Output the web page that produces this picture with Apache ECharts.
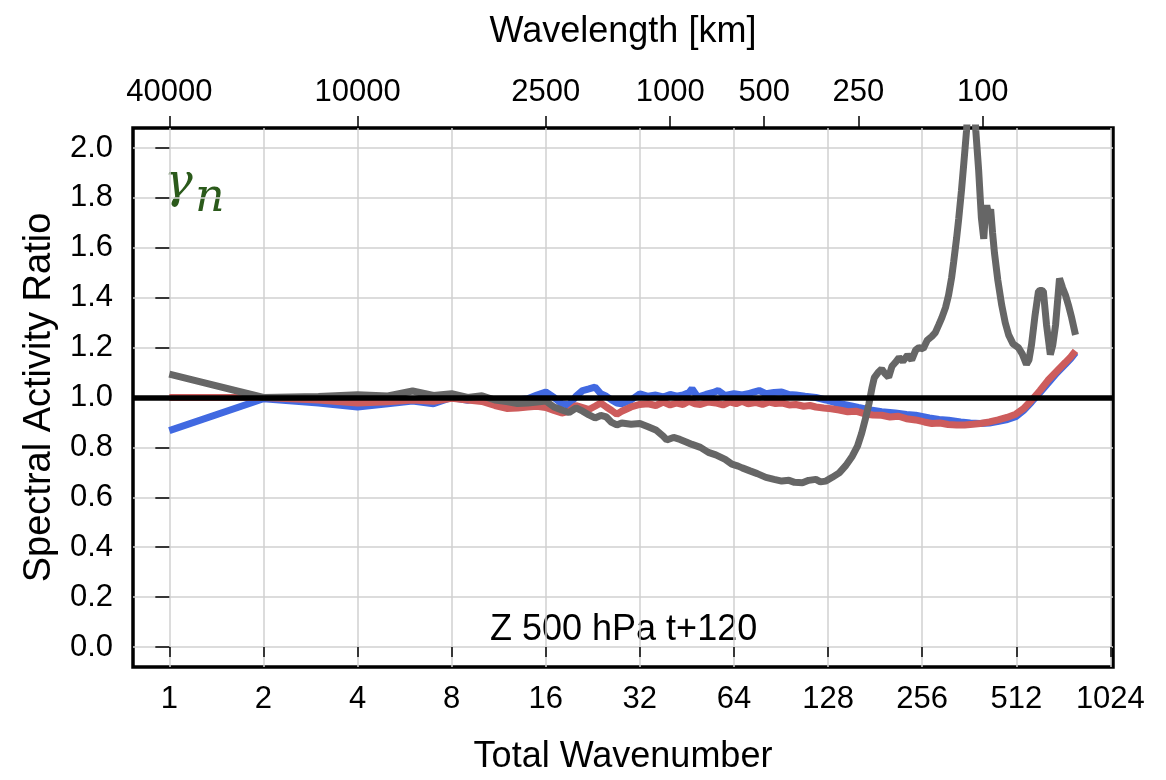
<!DOCTYPE html>
<html>
<head>
<meta charset="utf-8">
<title>Spectral Activity Ratio</title>
<script src="https://cdn.jsdelivr.net/npm/echarts@6/dist/echarts.min.js"></script>
<style>
	html, body { margin: 0; padding: 0; background: #fff; }
	#chart_container { width: 1166px; height: 780px; }
</style>
</head>
<body>
<div id="chart_container"></div>
<script>
// 数据：总波数 n 与谱活动比
var xTickN = [1, 2, 4, 8, 16, 32, 64, 128, 256, 512, 1024];
var topTickKm = [40000, 10000, 2500, 1000, 500, 250, 100];
var yTicks = [0, 0.2, 0.4, 0.6, 0.8, 1.0, 1.2, 1.4, 1.6, 1.8, 2.0];

var blueN = [1, 2, 3, 4, 5, 6, 7, 8, 9, 10, 11, 12, 13, 14, 15, 16, 17, 18, 19, 20, 21, 22, 23, 24, 25, 26, 27, 28, 30, 32,
	34, 36, 38, 40, 42, 44, 46, 47, 49, 52, 55, 57, 60, 64, 68, 71, 74, 77, 81, 86, 91, 96, 101, 108, 117, 126, 136, 148,
	160, 175, 190, 210, 228, 244, 270, 290, 311, 340, 365, 393, 420, 450, 480, 510, 540, 573, 610, 650, 690, 736, 765, 792];
var blueV = [0.867, 0.995, 0.978, 0.962, 0.975, 0.986, 0.975, 1.000, 0.989, 1.000, 0.985, 0.982, 0.990, 0.995, 1.010, 1.022,
	1.000, 0.975, 0.970, 1.005, 1.028, 1.035, 1.042, 1.015, 1.005, 0.990, 0.978, 0.975, 0.990, 1.015,
	1.005, 1.010, 1.002, 1.012, 1.005, 1.010, 1.020, 1.035, 1.002, 1.012, 1.020, 1.028, 1.008, 1.015, 1.010, 1.015, 1.022,
	1.028, 1.015, 1.020, 1.022, 1.012, 1.010, 1.005, 1.000, 0.990, 0.978, 0.969,
	0.960, 0.950, 0.943, 0.938, 0.932, 0.929, 0.918, 0.912, 0.909, 0.902, 0.898, 0.896, 0.898, 0.905, 0.912, 0.923, 0.948,
	0.982, 1.020, 1.060, 1.098, 1.134, 1.156, 1.180];

var redN = [1, 2, 3, 4, 5, 6, 7, 8, 9, 10, 11, 12, 13, 14, 15, 16, 17, 18, 19, 20, 21, 22, 23, 24, 25, 26, 27, 28, 30, 32,
	34, 36, 38, 40, 42, 44, 46, 48, 50, 53, 56, 59, 62, 65, 68, 71, 75, 79, 83, 87, 91, 96, 101, 107, 112, 117, 124, 131,
	139, 148, 157, 167, 178, 190, 202, 215, 228, 244, 260, 275, 292, 310, 330, 350, 372, 393, 420, 448, 478, 510, 540,
	573, 610, 646, 690, 736, 765, 792];
var redV = [1.000, 1.000, 0.990, 0.978, 0.983, 0.990, 0.985, 0.997, 0.990, 0.984, 0.968, 0.956, 0.958, 0.962, 0.965, 0.960,
	0.948, 0.938, 0.945, 0.968, 0.960, 0.952, 0.965, 0.978, 0.962, 0.948, 0.933, 0.945, 0.962, 0.972,
	0.975, 0.968, 0.982, 0.970, 0.978, 0.972, 0.985, 0.975, 0.972, 0.982, 0.978, 0.970, 0.982, 0.975, 0.985, 0.975, 0.980,
	0.972, 0.982, 0.976, 0.978, 0.970, 0.972, 0.965, 0.968, 0.962, 0.958, 0.955,
	0.950, 0.943, 0.945, 0.935, 0.930, 0.929, 0.922, 0.925, 0.915, 0.910, 0.902, 0.896, 0.898, 0.892, 0.890, 0.890, 0.893,
	0.896, 0.902, 0.910, 0.920, 0.933, 0.955, 0.989, 1.028, 1.068, 1.105, 1.141, 1.163, 1.187];

var grayN = [1, 2, 3, 4, 5, 6, 7, 8, 9, 10, 11, 12, 13, 14, 15, 16, 17, 18, 19, 20, 21, 22, 23, 24, 25, 26, 27, 28, 30, 32,
	34, 36, 38, 39, 41, 43, 45, 47, 50, 53, 56, 60, 63, 66, 68, 72, 76, 81, 86, 91, 96, 100, 106, 111, 117, 121, 126, 132,
	139, 146, 153, 159, 164, 169, 173, 177, 180, 185, 190, 195, 200, 205, 210, 216, 222, 230, 237, 244, 250, 258, 266,
	275, 282, 289, 296, 304, 311, 318, 323, 330, 335, 342, 348, 355, 362, 368, 374, 380, 388, 396, 403, 408, 412, 418,
	424, 430, 436, 447, 460, 472, 484, 500, 520, 535, 552, 562, 573, 588, 603, 614, 625, 640, 658, 670, 684, 704, 720,
	736, 752, 770, 792];
var grayV = [1.094, 1.000, 1.004, 1.011, 1.006, 1.026, 1.008, 1.015, 1.000, 1.007, 0.990, 0.984, 0.976, 0.978, 0.982, 0.986,
	0.962, 0.950, 0.940, 0.958, 0.945, 0.930, 0.918, 0.928, 0.922, 0.900, 0.890, 0.898, 0.893, 0.896,
	0.883, 0.870, 0.845, 0.830, 0.840, 0.832, 0.822, 0.812, 0.800, 0.780, 0.770, 0.752, 0.733, 0.725, 0.718, 0.706, 0.695,
	0.680, 0.672, 0.665, 0.668, 0.660, 0.658, 0.668, 0.672, 0.662, 0.665, 0.680,
	0.698, 0.728, 0.765, 0.805, 0.857, 0.920, 0.975, 1.040, 1.080, 1.100, 1.114, 1.095, 1.081, 1.125, 1.140, 1.160, 1.145,
	1.170, 1.150, 1.190, 1.200, 1.195, 1.230,
	1.245, 1.260, 1.290, 1.320, 1.360, 1.410, 1.480, 1.545, 1.640, 1.715, 1.830, 1.940, 2.070, 2.250, 2.350, 2.250, 2.070,
	1.913, 1.720, 1.636, 1.740, 1.770, 1.730,
	1.754, 1.660, 1.580, 1.470, 1.370, 1.300, 1.251, 1.215, 1.200, 1.175, 1.133, 1.150, 1.212, 1.330, 1.426, 1.430, 1.426,
	1.290, 1.172, 1.210, 1.291, 1.477, 1.440,
	1.410, 1.370, 1.320, 1.251];

// x 轴按 log2(n) 绘制
var xMin = -0.386, xMax = 10.028;

function toPairs(ns, vs) {
	var out = [];
	for (var i = 0; i < ns.length; i++) {
		out.push([Math.log2(ns[i]), vs[i]]);
	}
	return out;
}

var bottomTicks = xTickN.map(function(n) { return Math.log2(n); });
var topTicks = topTickKm.map(function(km) { return Math.log2(40000 / km); });

var labelFont = { color: '#000', fontFamily: 'Liberation Sans', fontSize: 31 };

var dom = document.getElementById("chart_container");
var myChart = echarts.init(dom);
var option = {
	animation: false,
	backgroundColor: '#fff',
	grid: {
		left: 133,
		right: 53,
		top: 128,
		bottom: 108,
		show: true,
		borderColor: '#000',
		borderWidth: 3.5,
		containLabel: false
	},
	xAxis: [{
		type: 'value',
		position: 'bottom',
		min: xMin,
		max: xMax,
		name: 'Total Wavenumber',
		nameLocation: 'middle',
		nameGap: 72,
		nameTextStyle: { color: '#000', fontFamily: 'Liberation Sans', fontSize: 36 },
		axisLine: { show: false },
		axisTick: { show: true, length: 10, customValues: bottomTicks, lineStyle: { color: '#000', width: 1.5 } },
		axisLabel: {
			customValues: bottomTicks,
			margin: 17,
			color: labelFont.color, fontFamily: labelFont.fontFamily, fontSize: labelFont.fontSize,
			formatter: function(v) { return String(Math.round(Math.pow(2, v))); }
		},
		splitLine: { show: true, lineStyle: { color: '#d0d0d0', width: 1.5 } }
	}, {
		type: 'value',
		position: 'top',
		min: xMin,
		max: xMax,
		name: 'Wavelength [km]',
		nameLocation: 'middle',
		nameGap: 78,
		nameTextStyle: { color: '#000', fontFamily: 'Liberation Sans', fontSize: 36 },
		axisLine: { show: false },
		axisTick: { show: true, length: 12, customValues: topTicks, lineStyle: { color: '#000', width: 1.5 } },
		axisLabel: {
			customValues: topTicks,
			margin: 20,
			color: labelFont.color, fontFamily: labelFont.fontFamily, fontSize: labelFont.fontSize,
			formatter: function(v) { return String(Math.round(40000 / Math.pow(2, v))); }
		},
		splitLine: { show: false }
	}],
	yAxis: {
		type: 'value',
		min: -0.08,
		max: 2.08,
		name: 'Spectral Activity Ratio',
		nameLocation: 'middle',
		nameGap: 69,
		nameRotate: 90,
		nameTextStyle: { color: '#000', fontFamily: 'Liberation Sans', fontSize: 38 },
		axisLine: { show: false },
		axisTick: { show: true, length: 14, customValues: yTicks, lineStyle: { color: '#000', width: 1.5 } },
		axisLabel: {
			customValues: yTicks,
			margin: 20,
			color: labelFont.color, fontFamily: labelFont.fontFamily, fontSize: labelFont.fontSize,
			formatter: function(v) { return v.toFixed(1); }
		},
		splitLine: { show: true, lineStyle: { color: '#d0d0d0', width: 1.5 } }
	},
	series: [{
		name: 'blue',
		type: 'line',
		showSymbol: false,
		data: toPairs(blueN, blueV),
		lineStyle: { color: '#4169E1', width: 7 },
		z: 2
	}, {
		name: 'red',
		type: 'line',
		showSymbol: false,
		data: toPairs(redN, redV),
		lineStyle: { color: '#CD5C5C', width: 7 },
		z: 3
	}, {
		name: 'gray',
		type: 'line',
		showSymbol: false,
		data: toPairs(grayN, grayV),
		lineStyle: { color: '#666666', width: 7 },
		z: 4,
		markLine: {
			silent: true,
			symbol: ['none', 'none'],
			label: { show: false },
			lineStyle: { color: '#000', width: 5.5, type: 'solid' },
			data: [{ yAxis: 1.0 }],
			z: 10
		}
	}],
	graphic: [{
		type: 'text',
		left: 490,
		top: 612,
		style: { text: 'Z 500 hPa t+120', fill: '#000', font: '36px "Liberation Sans"' }
	}, {
		type: 'text',
		left: 164,
		top: 161,
		style: { text: 'γ', fill: '#2b5a1b', font: 'italic 48px "DejaVu Serif"' }
	}, {
		type: 'text',
		left: 195,
		top: 176,
		style: { text: 'n', fill: '#2b5a1b', font: 'italic 46px "DejaVu Serif"' }
	}]
};
if (option && typeof option === "object") {
	myChart.setOption(option, true);
}
</script>
</body>
</html>
